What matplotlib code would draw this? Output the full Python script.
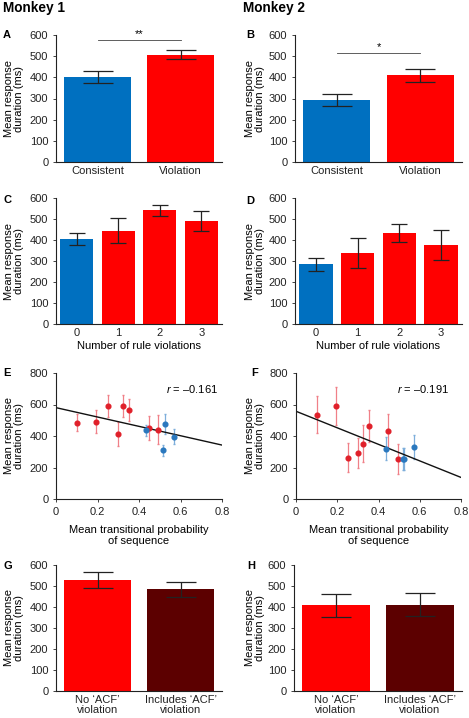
import matplotlib
matplotlib.use("Agg")
import matplotlib.pyplot as plt

plt.rcParams['font.family'] = ['Liberation Sans', 'DejaVu Sans']
plt.rcParams['mathtext.fontset'] = 'custom'
plt.rcParams['mathtext.it'] = 'Liberation Sans:italic'
plt.rcParams['mathtext.rm'] = 'Liberation Sans'

# ---- data ----
cond_labels = ["Consistent", "Violation"]
cond_m1 = [400, 506]
cond_m1_err = [28, 21]
cond_m2 = [294, 410]
cond_m2_err = [29, 30]

viol_labels = ["0", "1", "2", "3"]
viol_m1 = [404, 445, 541, 489]
viol_m1_err = [28, 61, 27, 47]
viol_m2 = [285, 339, 435, 375]
viol_m2_err = [31, 71, 43, 72]

# scatter: red = violation sequences, blue = consistent sequences
tp_red_m1 = [0.101, 0.191, 0.253, 0.300, 0.325, 0.351, 0.447, 0.490]
rt_red_m1 = [485, 489, 590, 412, 592, 565, 450, 441]
err_red_m1 = [52, 73, 68, 77, 70, 71, 74, 92]
tp_blue_m1 = [0.433, 0.523, 0.516, 0.567]
rt_blue_m1 = [435, 475, 309, 395]
err_blue_m1 = [32, 63, 34, 47]
fit_m1 = (580, -297)   # intercept, slope
r_m1 = "\u20130.161"

tp_red_m2 = [0.102, 0.192, 0.252, 0.300, 0.326, 0.354, 0.448, 0.493]
rt_red_m2 = [536, 592, 263, 292, 351, 464, 429, 252]
err_red_m2 = [116, 122, 92, 95, 118, 104, 108, 95]
tp_blue_m2 = [0.435, 0.517, 0.525, 0.571]
rt_blue_m2 = [319, 254, 254, 328]
err_blue_m2 = [73, 68, 68, 77]
fit_m2 = (557, -525)
r_m2 = "\u20130.191"

acf_labels = ["No \u2018ACF\u2019\nviolation", "Includes \u2018ACF\u2019\nviolation"]
acf_m1 = [529, 484]
acf_m1_err = [37, 34]
acf_m2 = [408, 411]
acf_m2_err = [54, 54]

BLUE = "#0070C0"
RED = "#FF0000"
DARKRED = "#5C0000"
PT_RED = "#E0202A"
PT_BLUE = "#2A78BE"
FS = 8

W, H = 469, 718
fig = plt.figure(figsize=(W / 100, H / 100), dpi=100)


def px_axes(left, top, right, bottom):
    return fig.add_axes([left / W, 1 - bottom / H, (right - left) / W, (bottom - top) / H])


def style(ax):
    for s in ["top", "right"]:
        ax.spines[s].set_visible(False)
    for s in ["left", "bottom"]:
        ax.spines[s].set_linewidth(0.8)
        ax.spines[s].set_color("#222222")
    ax.tick_params(labelsize=FS, width=0.6, length=2, colors="#222222")


def ylab(ax, x_px):
    # x_px = right edge of the rotated label, in figure pixels
    ax.set_ylabel("Mean response\nduration (ms)", fontsize=FS, linespacing=1.0)
    pos = ax.get_position()
    ax.yaxis.set_label_coords((x_px - pos.x0 * W) / (pos.width * W), 0.5)


def bars(ax, labels, vals, errs, colors, cap):
    x = range(len(vals))
    ax.bar(x, vals, width=0.8, color=colors, edgecolor="none")
    ax.errorbar(x, vals, yerr=errs, fmt="none", ecolor="#222222", elinewidth=0.9, capsize=cap, capthick=0.9)
    ax.set_xlim(-0.5, len(vals) - 0.5)
    ax.set_ylim(0, 600)
    ax.set_yticks(range(0, 601, 100))
    ax.set_xticks(list(x))
    ax.set_xticklabels(labels, fontsize=FS, linespacing=1.0)
    style(ax)
    ax.tick_params(axis="x", length=0, pad=3)


def scatter(ax, tr, rr, er, tb, rb, eb, fit, rtxt, rx):
    ax.errorbar(tr, rr, yerr=er, fmt="o", color=PT_RED, ms=3.4, ecolor="#F08088", elinewidth=0.9, capsize=0.8)
    ax.errorbar(tb, rb, yerr=eb, fmt="o", color=PT_BLUE, ms=3.4, ecolor="#7DAEDB", elinewidth=0.9, capsize=0.8)
    ax.plot([0, 0.8], [fit[0], fit[0] + fit[1] * 0.8], color="#111111", lw=1.0)
    ax.set_xlim(0, 0.8)
    ax.set_ylim(0, 800)
    ax.set_xticks([0, 0.2, 0.4, 0.6, 0.8])
    ax.set_xticklabels(["0", "0.2", "0.4", "0.6", "0.8"])
    ax.set_yticks(range(0, 801, 200))
    ax.text(rx, 698, "$r$ = " + rtxt, fontsize=FS, ha="right", va="center")
    ax.set_xlabel("Mean transitional probability\nof sequence", fontsize=FS, linespacing=1.15, labelpad=6)
    style(ax)


# headers
fig.text(3 / W, 1 - 8 / H, "Monkey 1", fontsize=9.8, fontweight="bold", va="center")
fig.text(243 / W, 1 - 8 / H, "Monkey 2", fontsize=9.8, fontweight="bold", va="center")

# row 1
axA = px_axes(56, 35, 222, 162)
bars(axA, cond_labels, cond_m1, cond_m1_err, [BLUE, RED], 10.5)
axA.plot([0, 1], [575, 575], color="#444444", lw=0.6, clip_on=False)
axA.text(0.5, 580, "**", ha="center", va="bottom", fontsize=FS)
ylab(axA, 24)

axB = px_axes(295, 35, 462, 162)
bars(axB, cond_labels, cond_m2, cond_m2_err, [BLUE, RED], 10.5)
axB.plot([0, 1], [514, 514], color="#444444", lw=0.6)
axB.text(0.5, 519, "*", ha="center", va="bottom", fontsize=FS)
ylab(axB, 265)

# row 2
axC = px_axes(56, 198, 222, 324)
bars(axC, viol_labels, viol_m1, viol_m1_err, [BLUE, RED, RED, RED], 6)
axC.set_xlabel("Number of rule violations", fontsize=FS, labelpad=2)
ylab(axC, 24)

axD = px_axes(295, 198, 462, 324)
bars(axD, viol_labels, viol_m2, viol_m2_err, [BLUE, RED, RED, RED], 6)
axD.set_xlabel("Number of rule violations", fontsize=FS, labelpad=2)
ylab(axD, 265)

# row 3
axE = px_axes(56, 373, 222, 499)
scatter(axE, tp_red_m1, rt_red_m1, err_red_m1, tp_blue_m1, rt_blue_m1, err_blue_m1, fit_m1, r_m1, 0.78)
ylab(axE, 24)

axF = px_axes(296, 373, 461, 499)
scatter(axF, tp_red_m2, rt_red_m2, err_red_m2, tp_blue_m2, rt_blue_m2, err_blue_m2, fit_m2, r_m2, 0.742)
ylab(axF, 265)

# row 4
axG = px_axes(56, 565, 222, 691)
bars(axG, acf_labels, acf_m1, acf_m1_err, [RED, DARKRED], 10.5)
ylab(axG, 24)

axH = px_axes(294, 565, 462, 691)
bars(axH, acf_labels, acf_m2, acf_m2_err, [RED, DARKRED], 10.5)
ylab(axH, 265)

# panel letters
letters = [("A", 3, 35), ("B", 246, 35), ("C", 3, 200), ("D", 246, 201),
           ("E", 3, 373), ("F", 251, 373), ("G", 3, 566), ("H", 247, 566)]
for lt, x, y in letters:
    fig.text(x / W, 1 - y / H, lt, fontsize=FS, fontweight="bold", va="center")

fig.savefig("out.png", dpi=100)
